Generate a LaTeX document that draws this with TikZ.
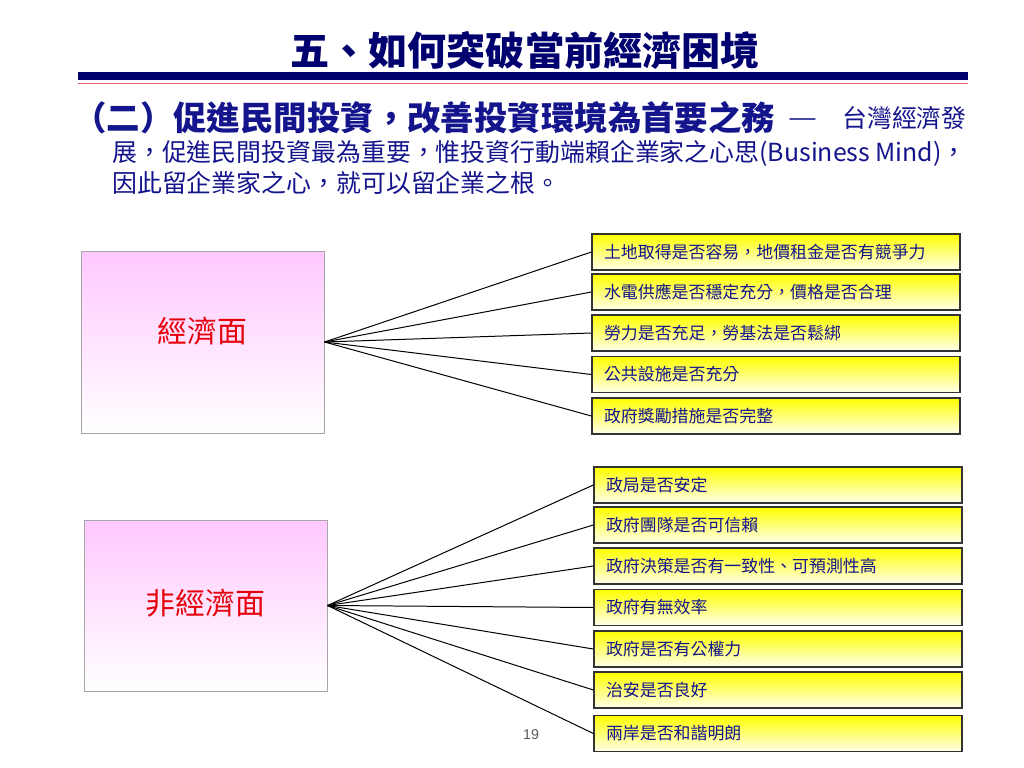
\documentclass[tikz,border=0pt]{standalone}
\usepackage{fontspec}
\usepackage{graphicx}
\newfontfamily\cjk{Noto Sans CJK TC}
\newfontfamily\arialfont{Liberation Sans}
\usetikzlibrary{positioning}
\definecolor{navy}{RGB}{0,0,110}
\definecolor{txtblue}{RGB}{20,20,140}
\definecolor{barred}{RGB}{225,100,95}
\definecolor{pinktop}{RGB}{255,200,255}
\definecolor{ytop}{RGB}{255,255,0}
\definecolor{ybot}{RGB}{255,255,235}
\definecolor{bigred}{RGB}{230,0,10}
\tikzset{
  leftbox/.style={draw=black!35, line width=0.7pt, top color=pinktop, bottom color=white, inner sep=0pt},
  ybox/.style={draw=black!80, line width=0.9pt, top color=ytop, bottom color=ybot,
    minimum width={368*0.703pt}, minimum height={36*0.703pt}, inner xsep={12*0.703pt}, inner ysep=0pt,
    text width={344*0.703pt}, align=left, font=\cjk\fontsize{11.9}{13}\selectfont, text=txtblue},
  bigtxt/.style={font=\cjk\fontsize{21}{24}\selectfont, text=bigred, inner sep=0pt},
  conn/.style={draw=black, line width=0.7pt},
  body/.style={font=\cjk\fontsize{17.5}{20}\selectfont, text=txtblue, anchor=west, inner sep=0pt},
}
\begin{document}
\begin{tikzpicture}[x=0.703pt,y=-0.703pt]
\useasboundingbox[fill=white] (0,0) rectangle (1024,768);
% title
\node[font=\cjk\bfseries\fontsize{27.5}{30}\selectfont, text=navy, inner sep=0pt] (title) at (525,50) {五、如何突破當前經濟困境};
\fill[navy] (78,72) rectangle (968,80);
\draw[barred, line width=1.4pt] (78,83.5) -- (968,83.5);
% subtitle
\node[body, font=\cjk\bfseries\fontsize{23.5}{26}\selectfont] (sub1) at (73,118) {（二）促進民間投資，改善投資環境為首要之務};
\node[body, anchor=center] (dash) at (803,123) {\scalebox{1.3}[1]{—}};
\node[body] (sub1b) at (842,118) {台灣經濟發};
\node[body] (sub2) at (112,153) {展，促進民間投資最為重要，惟投資行動端賴企業家之心思(Business Mind)，};
\node[body] (sub3) at (112,183) {因此留企業家之心，就可以留企業之根。};
% left boxes
\node[leftbox, minimum width={243*0.703pt}, minimum height={182*0.703pt}] (econ) at (202.5,342) {};
\node[bigtxt] (econlbl) at (202.5,331) {經濟面};
\node[leftbox, minimum width={243*0.703pt}, minimum height={171*0.703pt}] (non) at (205.5,605.5) {};
\node[bigtxt] (nonlbl) at (205.5,603) {非經濟面};
% top yellow boxes
\node[ybox] (a1) at (776,252) {土地取得是否容易，地價租金是否有競爭力};
\node[ybox] (a2) at (776,292) {水電供應是否穩定充分，價格是否合理};
\node[ybox] (a3) at (776,333) {勞力是否充足，勞基法是否鬆綁};
\node[ybox] (a4) at (776,374.5) {公共設施是否充分};
\node[ybox] (a5) at (776,416) {政府獎勵措施是否完整};
% bottom yellow boxes
\node[ybox] (b1) at (778,485) {政局是否安定};
\node[ybox] (b2) at (778,525) {政府團隊是否可信賴};
\node[ybox] (b3) at (778,566) {政府決策是否有一致性、可預測性高};
\node[ybox] (b4) at (778,607.5) {政府有無效率};
\node[ybox] (b5) at (778,649) {政府是否有公權力};
\node[ybox] (b6) at (778,690) {治安是否良好};
\node[ybox] (b7) at (778,733.5) {兩岸是否和諧明朗};
% connectors
\foreach \n in {a1,a2,a3,a4,a5} \draw[conn] (econ.east) -- (\n.west);
\foreach \n in {b1,b2,b3,b4,b5,b6,b7} \draw[conn] (non.east) -- (\n.west);
% page number
\node[font=\arialfont\fontsize{10}{12}\selectfont, text=black!65, inner sep=0pt] (pg) at (531,735) {19};
\end{tikzpicture}
\end{document}
